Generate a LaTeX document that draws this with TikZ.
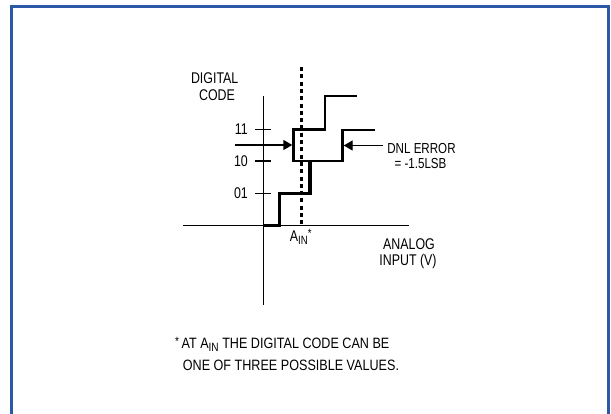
\documentclass[tikz,border=0pt]{standalone}
\usepackage{fontspec}
\setmainfont{Liberation Sans}[FakeStretch=0.8]
\newfontfamily\footfont{Liberation Sans}[FakeStretch=0.84]
\usetikzlibrary{arrows.meta}
\definecolor{framebl}{RGB}{44,88,168}
\begin{document}
\begin{tikzpicture}[x=1pt,y=-1pt,
  lbl/.style={inner sep=0pt, font=\fontsize{15.5}{16}\selectfont},
  dnl/.style={inner sep=0pt, font=\fontsize{14.5}{16}\selectfont},
  foot/.style={inner sep=0pt, font=\footfont\fontsize{15}{16}\selectfont},
  axisline/.style={line width=1.4pt},
  tickline/.style={line width=1.4pt},
  thinstep/.style={line width=2.4pt, line join=miter},
  thickstep/.style={line width=3.6pt, line join=miter},
  dotline/.style={line width=3pt, dash pattern=on 4pt off 3.3pt},
  ptr/.style={line width=1.4pt, -{Triangle[length=9pt,width=10pt]}}]
\useasboundingbox (0,0) rectangle (611,413);
\fill[white] (0,0) rectangle (611,413);
\begin{scope}
\clip (0,0) rectangle (611,413);
\draw[framebl, line width=2.8pt] (11.3,420) -- (11.3,6.2) -- (608.8,6.2) -- (608.8,420);
\end{scope}
% axes
\coordinate (ytop) at (263.5,96);
\coordinate (ybot) at (263.5,305);
\coordinate (xl) at (183,225.3);
\coordinate (xr) at (409,225.3);
\draw[axisline] (ytop) -- (ybot);
\draw[axisline] (xl) -- (xr);
% ticks
\coordinate (t11a) at (255,129.5); \coordinate (t11b) at (271,129.5);
\coordinate (t10a) at (255,161);   \coordinate (t10b) at (271,161);
\coordinate (t01a) at (255,193.3); \coordinate (t01b) at (271,193.3);
\draw[tickline] (t11a) -- (t11b);
\draw[tickline] (t10a) -- (t10b);
\draw[tickline] (t01a) -- (t01b);
% staircases
\draw[thinstep] (356.7,95.7) -- (325,95.7) -- (325,129.5) -- (293.3,129.5) -- (293.3,161) -- (342.5,161) -- (342.5,130) -- (374.5,130);
\draw[thickstep] (263.5,225.3) -- (279.3,225.3) -- (279.3,193.3) -- (310,193.3) -- (310,161);
% dotted A_IN line
\coordinate (dtop) at (301.7,67);
\coordinate (dbot) at (301.7,225.3);
\draw[dotline] (dtop) -- (dbot);
% arrows
\coordinate (lfrom) at (235,145);
\coordinate (lto) at (292.3,145);
\coordinate (rfrom) at (383,145.5);
\coordinate (rto) at (343.7,145.5);
\draw[ptr] (lfrom) -- (lto);
\draw[ptr] (rfrom) -- (rto);
% labels
\node[lbl, anchor=base] (dig) at (214.7,83.3) {DIGITAL};
\node[lbl, anchor=base] (code) at (217,100) {CODE};
\node[lbl, anchor=east] (l11) at (248,129.5) {11};
\node[lbl, anchor=east] (l10) at (248,161) {10};
\node[lbl, anchor=east] (l01) at (248,193.3) {01};
\node[lbl, anchor=base west] (ain) at (289.7,241.7) {A\raisebox{-2.6pt}{\fontsize{12}{12}\selectfont IN}\raisebox{4.5pt}{\fontsize{12}{12}\selectfont *}};
\node[lbl, anchor=base] (an1) at (409,249) {ANALOG};
\node[lbl, anchor=base] (an2) at (408,265) {INPUT (V)};
\node[dnl, anchor=base] (dnl1) at (421.5,153.3) {DNL ERROR};
\node[dnl, anchor=base] (dnl2) at (420.5,168.3) {= -1.5LSB};
\node[foot, anchor=base west] (f1) at (175,348.5) {\raisebox{3pt}{\fontsize{12}{12}\selectfont *}\,AT A\raisebox{-2.6pt}{\fontsize{12}{12}\selectfont IN} THE DIGITAL CODE CAN BE};
\node[foot, anchor=base west] (f2) at (182.7,370) {ONE OF THREE POSSIBLE VALUES.};
\end{tikzpicture}
\end{document}
